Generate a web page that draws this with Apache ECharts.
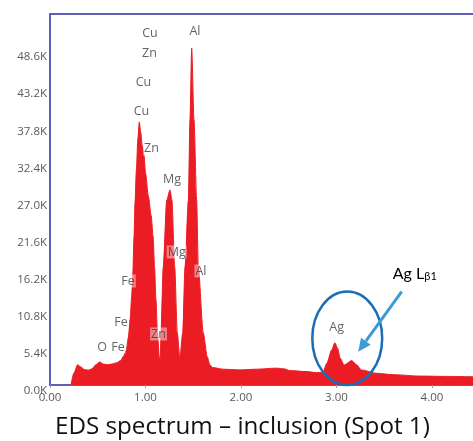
<!DOCTYPE html>
<html>
<head>
<meta charset="utf-8">
<script src="https://cdn.jsdelivr.net/npm/echarts@6/dist/echarts.min.js"></script>
<style>
  html, body { margin: 0; padding: 0; background: #fff; }
  #main { width: 473px; height: 441px; }
</style>
</head>
<body>
<div id="main"></div>
<script>
// spectrum, energy in keV and counts
var energy = [0.22, 0.25, 0.29, 0.32, 0.36, 0.40, 0.44, 0.48, 0.52, 0.56, 0.60, 0.65, 0.70, 0.74, 0.77,
  0.80, 0.82, 0.84, 0.855, 0.866, 0.88, 0.89, 0.905, 0.92, 0.935, 0.95, 0.965, 0.985, 1.00, 1.03,
  1.06, 1.08, 1.095, 1.11, 1.125, 1.145, 1.155, 1.162, 1.186, 1.222, 1.257, 1.277, 1.306, 1.333, 1.36,
  1.39, 1.414, 1.449, 1.466, 1.484, 1.508, 1.536, 1.553, 1.605, 1.647, 1.675, 1.70, 1.815, 1.99, 2.16,
  2.37, 2.45, 2.51, 2.69, 2.79, 2.86, 2.90, 2.95, 2.984, 3.01, 3.04, 3.08, 3.16, 3.21, 3.26,
  3.42, 3.60, 3.87, 4.15, 4.43];
var counts = [0, 1750, 2950, 2650, 2250, 2150, 2350, 2950, 3350, 3050, 2950, 3050, 3250, 3550, 4200,
  5100, 6900, 9600, 12800, 15700, 21600, 26500, 31400, 35800, 38300, 36800, 34900, 33400, 30900, 27500,
  24600, 21600, 17200, 12400, 7600, 4100, 3700, 7600, 17200, 26900, 28400, 26900, 17200, 7600, 3900,
  7600, 17200, 26900, 38600, 49000, 38600, 26900, 17200, 7600, 4100, 2950, 2550, 2300, 2200, 2300,
  2450, 2350, 2100, 1950, 1800, 1850, 3200, 5100, 6150, 5400, 3900, 2900, 3550, 2950, 2200,
  1700, 1500, 1300, 1250, 1200];

// element labels: text, energy, counts where the label sits
var peakNames = ['Cu', 'Zn', 'Al', 'Cu', 'Cu', 'Zn', 'Mg', 'Mg', 'Al', 'Fe', 'Fe', 'O', 'Fe', 'Zn', 'Ag'];
var peakE = [1.047, 1.042, 1.518, 0.979, 0.958, 1.063, 1.277, 1.327, 1.581, 0.817, 0.743, 0.545, 0.712, 1.136, 3.002];
var peakC = [51100, 48200, 51400, 44100, 39750, 34360, 29850, 19360, 16600, 15140, 9170, 5530, 5530, 7430, 8450];

var yTicks = 5400;
var xTicks = 1;

var chart = echarts.init(document.getElementById('main'));

var line = [];
energy.forEach(function (e, i) { line.push([e, counts[i]]) });
var labels = [];
peakNames.forEach(function (n, i) { labels.push({ name: n, value: [peakE[i], peakC[i]] }) });

var axisBlue = '#5f5fb9';

chart.setOption({
  animation: false,
  title: {
    text: 'EDS spectrum \u2013 inclusion (Spot 1)',
    left: 55,
    top: 415,
    padding: 0,
    textStyle: { fontFamily: 'Open Sans', fontSize: 24.2, fontWeight: 'normal', color: '#111' }
  },
  grid: { left: 50, right: 0, top: 14, bottom: 56 },
  xAxis: [{
    type: 'value',
    min: 0,
    max: 4.43,
    interval: xTicks,
    axisLine: { lineStyle: { color: axisBlue, width: 2 } },
    axisTick: { show: true, length: 3, lineStyle: { color: '#9a9ac8' } },
    splitLine: { show: false },
    axisLabel: {
      showMaxLabel: false,
      margin: 7,
      color: '#5a5a5a',
      fontFamily: 'Open Sans',
      fontSize: 11.5,
      formatter: function (v) { return v.toFixed(2) }
    }
  }, {
    type: 'value',
    position: 'top',
    min: 0,
    max: 4.43,
    axisLine: { show: true, onZero: false, lineStyle: { color: axisBlue, width: 2 } },
    axisTick: { show: false },
    axisLabel: { show: false },
    splitLine: { show: false }
  }],
  yAxis: {
    type: 'value',
    min: 0,
    max: 54000,
    interval: yTicks,
    axisLine: { show: true, lineStyle: { color: axisBlue, width: 2 } },
    axisTick: { show: false },
    splitLine: { show: false },
    axisLabel: {
      showMaxLabel: false,
      margin: 3,
      verticalAlign: 'top',
      color: '#5a5a5a',
      fontFamily: 'Open Sans',
      fontSize: 11.5,
      formatter: function (v) { return (v / 1000).toFixed(1) + 'K' }
    }
  },
  series: [{
    type: 'line',
    data: line,
    showSymbol: false,
    smooth: 0.25,
    smoothMonotone: 'x',
    lineStyle: { color: '#ec1c24', width: 1 },
    areaStyle: { color: '#ec1c24', opacity: 1 },
    z: 2
  }, {
    type: 'scatter',
    data: labels,
    symbolSize: 0,
    z: 5,
    label: {
      show: true,
      position: 'inside',
      formatter: '{b}',
      color: '#3c3c3c',
      fontFamily: 'Open Sans',
      fontSize: 12.5,
      backgroundColor: 'rgba(255,255,255,0.55)',
      padding: [0, 1]
    }
  }]
});

// annotation round the Ag peaks, placed in data space
function px(e, c) { return chart.convertToPixel({ gridIndex: 0 }, [e, c]) }
var ctr = px(3.113, 6800);
var edge = px(3.113 + 0.366, 6800 + 6800);
var a0 = px(3.683, 13580);
var a1 = px(3.228, 4850);
var dx = a1[0] - a0[0], dy = a1[1] - a0[1];
var len = Math.sqrt(dx * dx + dy * dy);
var ux = dx / len, uy = dy / len;
var headL = 13, headW = 6;
var base = [a1[0] - ux * headL, a1[1] - uy * headL];
var txt = px(3.59, 16300);

chart.setOption({
  graphic: [{
    type: 'ellipse',
    shape: { cx: ctr[0], cy: ctr[1], rx: edge[0] - ctr[0], ry: ctr[1] - edge[1] },
    style: { fill: 'none', stroke: '#1b6db6', lineWidth: 2.5 },
    z: 10
  }, {
    type: 'line',
    shape: { x1: a0[0], y1: a0[1], x2: base[0], y2: base[1] },
    style: { stroke: '#3d9ad7', lineWidth: 3 },
    z: 10
  }, {
    type: 'polygon',
    shape: { points: [a1, [base[0] - uy * headW, base[1] + ux * headW], [base[0] + uy * headW, base[1] - ux * headW]] },
    style: { fill: '#3d9ad7' },
    z: 10
  }, {
    type: 'text',
    x: txt[0],
    y: txt[1],
    style: {
      text: '{a|Ag L}{s|\u03b21}',
      verticalAlign: 'middle',
      rich: {
        a: { fontFamily: 'Lato', fontSize: 16, fill: '#000', verticalAlign: 'bottom' },
        s: { fontFamily: 'Lato', fontSize: 11, fill: '#000', padding: [6, 0, 0, 0] }
      }
    },
    z: 10
  }]
});
</script>
</body>
</html>
